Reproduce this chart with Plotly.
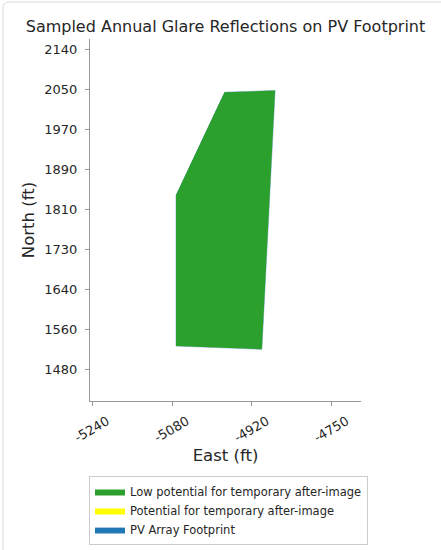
import plotly.graph_objects as go

# ---- data (feet) ----
east_tick_text = ["-5240", "-5080", "-4920", "-4750"]
east_tick_start = -5240.0
east_tick_step = 163.33

north_tick_text = ["1480", "1560", "1640", "1730", "1810", "1890", "1970", "2050", "2140"]
north_tick_start = 1480.0
north_tick_step = 82.5

glare_low_east = [-4969.3, -4865.8, -4892.9, -5068.5, -5068.5]
glare_low_north = [2051.3, 2054.6, 1521.2, 1528.0, 1839.5]

glare_pot_east = [None]
glare_pot_north = [None]

footprint_east = [-4969.3, -4865.8, -4892.9, -5068.5, -5068.5]
footprint_north = [2051.3, 2054.6, 1521.2, 1528.0, 1839.5]

east_vals = [east_tick_start + i * east_tick_step for i in range(len(east_tick_text))]
north_vals = [north_tick_start + i * north_tick_step for i in range(len(north_tick_text))]

W, H = 441, 550
L, R, T, B = 90, 80, 39, 149
pw, ph = W - L - R, H - T - B


def px2paper(x, y):
    return (x - L) / pw, (H - B - y) / ph


FONT = "DejaVu Sans"
TXT = "#262626"
AX = "#999999"

fig = go.Figure()
fig.add_trace(go.Scatter(
    x=footprint_east, y=footprint_north, fill="toself", mode="lines",
    fillcolor="#1f77b4", line=dict(color="#aac8e4", width=1),
    name="PV Array Footprint", legendrank=3, hoverinfo="skip"))
fig.add_trace(go.Scatter(
    x=glare_low_east, y=glare_low_north, fill="toself", mode="lines",
    fillcolor="#2ca02c", line=dict(color="#2ca02c", width=0),
    name="Low potential for temporary after-image", legendrank=1))
fig.add_trace(go.Scatter(
    x=glare_pot_east, y=glare_pot_north, fill="toself", mode="lines",
    fillcolor="#ffff00", line=dict(color="#ffff00", width=0),
    name="Potential for temporary after-image", legendrank=2))

# rounded outer card border (top and left edges visible)
x0, y0 = px2paper(3, 2)
x1, y1 = px2paper(470, 570)
r = 6
rx, ry = r / pw, r / ph
path = (f"M {x0+rx},{y0} L {x1},{y0} L {x1},{y1} L {x0},{y1} "
        f"L {x0},{y0-ry} Q {x0},{y0} {x0+rx},{y0} Z")

lx, ly = px2paper(89, 476)
fig.update_layout(
    width=W, height=H,
    margin=dict(l=L, r=R, t=T, b=B, autoexpand=False),
    paper_bgcolor="white", plot_bgcolor="white",
    font=dict(family=FONT, color=TXT, size=13),
    title=dict(text="Sampled Annual Glare Reflections on PV Footprint",
               x=0.5, xref="paper", xanchor="center",
               y=1 - 26 / H, yref="container", yanchor="middle",
               font=dict(size=16, color=TXT)),
    xaxis=dict(range=[-5244.5, -4690], tickvals=east_vals, ticktext=east_tick_text,
               tickangle=-30, ticks="outside", ticklen=4, tickcolor=AX,
               ticklabelshift=15, ticklabelstandoff=3,
               showline=True, linecolor=AX, linewidth=1, showgrid=False, zeroline=False,
               title=dict(text="East (ft)", font=dict(size=16.5), standoff=5),
               tickfont=dict(size=13)),
    yaxis=dict(range=[1414.6, 2161], tickvals=north_vals, ticktext=north_tick_text,
               ticks="outside", ticklen=4, tickcolor=AX, ticklabelstandoff=5,
               showline=True, linecolor=AX, linewidth=1, showgrid=False, zeroline=False,
               title=dict(text="North (ft)", font=dict(size=16.5), standoff=5),
               tickfont=dict(size=13)),
    legend=dict(x=lx, y=ly, xanchor="left", yanchor="top",
                bordercolor="#cccccc", borderwidth=1, bgcolor="white",
                font=dict(size=11.5, color=TXT), tracegroupgap=0),
    shapes=[dict(type="path", xref="paper", yref="paper", path=path,
                 line=dict(color="#d9d9d9", width=1), layer="above")],
    showlegend=True,
)

fig.write_html("out.html", config={"displayModeBar": False},
               post_script="document.body.style.margin='0';document.body.style.overflow='hidden';")
